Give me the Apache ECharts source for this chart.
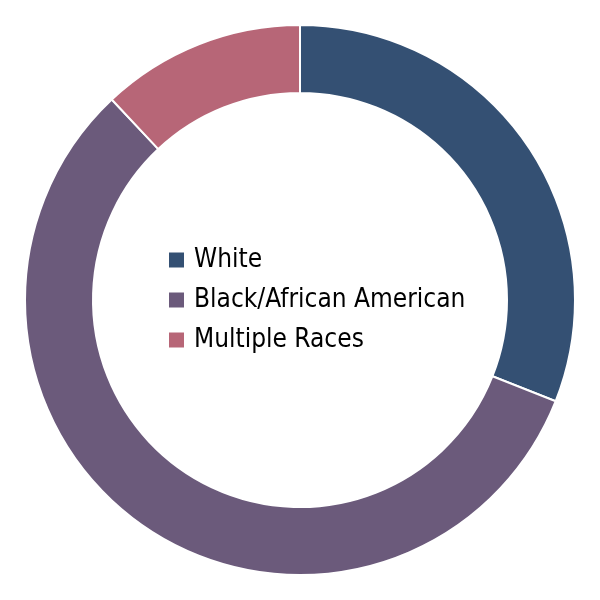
<!DOCTYPE html>
<html>
<head>
<meta charset="utf-8">
<script src="https://cdn.jsdelivr.net/npm/echarts@6/dist/echarts.min.js"></script>
<style>
  html, body { margin: 0; padding: 0; background: #fff; }
  #chart { width: 600px; height: 600px; }
</style>
</head>
<body>
<div id="chart"></div>
<script>
const categories = ["White", "Black/African American", "Multiple Races"];
const values = [31, 57, 12];
const colors = ["#345073", "#6b5a7b", "#b76677"];

const chart = echarts.init(document.getElementById("chart"));
chart.setOption({
  animation: false,
  color: colors,
  legend: {
    orient: "vertical",
    left: 162,
    top: 240,
    padding: 5,
    itemWidth: 17,
    itemHeight: 17,
    itemGap: 10,
    icon: "rect",
    textStyle: {
      fontFamily: "'Liberation Sans Narrow', 'DejaVu Sans Condensed', sans-serif",
      fontSize: 26,
      lineHeight: 30,
      color: "#000",
      padding: [0, 0, 0, 4],
    },
    data: categories,
  },
  series: [
    {
      type: "pie",
      center: [300, 300],
      radius: [207, 275],
      startAngle: 90,
      clockwise: true,
      label: { show: false },
      labelLine: { show: false },
      itemStyle: { borderColor: "#fff", borderWidth: 2 },
      emphasis: { disabled: true },
      data: categories.map((name, i) => ({ name: name, value: values[i] })),
    },
  ],
});
</script>
</body>
</html>
